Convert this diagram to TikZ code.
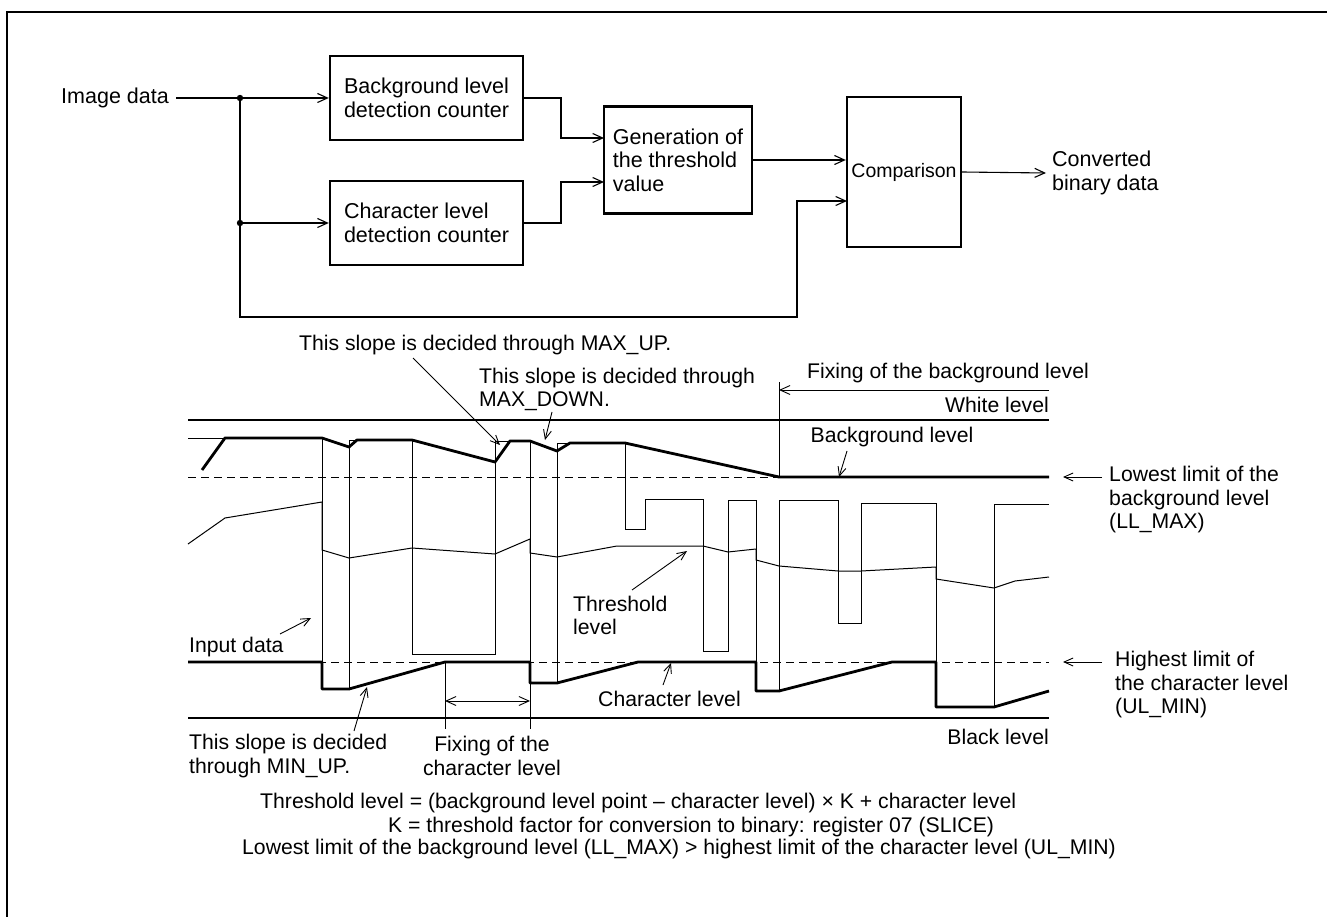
\documentclass[tikz,border=0pt]{standalone}
\usepackage{fontspec}
\setmainfont{Liberation Sans}
\usetikzlibrary{arrows.meta}
\begin{document}
\begin{tikzpicture}[x=1pt,y=-1pt,
  barb/.tip={Straight Barb[length=10pt,width=9pt]},
  arr/.style={-barb},
  conn/.style={line width=1.1pt},
  blk/.style={draw, line width=2.4pt, minimum width=193pt, minimum height=84pt, inner sep=0pt, align=left, font=\fontsize{21.5}{23.5}\selectfont},
  txt/.style={inner sep=0pt, align=left, font=\fontsize{21.5}{23.5}\selectfont},
  wv/.style={inner sep=0pt, align=left, font=\fontsize{21.2}{23.5}\selectfont},
  fm/.style={inner sep=0pt, font=\fontsize{21.2}{23.5}\selectfont},
  thinw/.style={line width=1pt, line join=miter},
  boldw/.style={line width=2.8pt, line join=round},
  lvl/.style={line width=1.1pt},
  dsh/.style={line width=1pt, dash pattern=on 8pt off 5pt},
  ann/.style={line width=0.9pt, -{Straight Barb[length=9pt,width=8pt]}}]
\useasboundingbox (0,0) rectangle (1327,917);
% frame
\draw[line width=2.4pt] (7,917) -- (7,12) -- (1327,12);

% ---------------- block diagram ----------------
\node[txt, anchor=east, inner xsep=7pt] (img) at (176,98) {Image data};
\node[blk] (bg) at (426.5,98) {Background level\\detection counter};
\node[blk] (ch) at (426.5,223) {Character level\\detection counter};
\node[blk, minimum width=148pt, minimum height=107pt] (gen) at (678,160) {Generation of\\the threshold\\value};
\node[blk, minimum width=114pt, minimum height=150pt, font=\fontsize{19.5}{22}\selectfont] (comp) at (904,172) {Comparison};
\node[txt, anchor=west, inner xsep=6pt] (conv) at (1046,173) {Converted\\binary data};

\coordinate (j1) at (240,98);
\coordinate (j2) at (240,223);
\coordinate (fbc) at (797,317);
\coordinate (cin2) at (847,201);
\coordinate (gin1) at (604,138);
\coordinate (gin2) at (604,182);
\coordinate (bgo) at (561,98);
\coordinate (cho) at (561,223);

\draw[conn, arr] (img.east) -- (bg.west);
\draw[conn] (j1) -- (j2);
\draw[conn, arr] (j2) -- (ch.west);
\draw[conn, arr] (j2) |- (fbc) |- (cin2);
\fill (j1) circle (3.2pt);
\fill (j2) circle (3.2pt);
\draw[conn, arr] (bg.east) -- (bgo) |- (gin1);
\draw[conn, arr] (ch.east) -- (cho) |- (gin2);
\draw[conn, arr] (gen.east) -- (gen.east -| comp.west);
\draw[conn, arr] (comp.east) -- (conv.west);

% ---------------- waveform ----------------
\draw[lvl] (188,420) -- (1049,420);
\draw[lvl] (188,718) -- (1049,718);
\draw[dsh] (188,477) -- (1049,477);
\draw[dsh] (188,662) -- (1049,662);

% input data
\draw[thinw] (188,438) -- (322,438) -- (322,689) -- (349,689) -- (349,440) -- (412,440)
  -- (412,654) -- (495,654) -- (495,441) -- (530,441) -- (530,683) -- (557,683)
  -- (557,443) -- (625,443) -- (625,529) -- (645,529) -- (645,499) -- (703,499)
  -- (703,651) -- (728,651) -- (728,500) -- (756,500) -- (756,691) -- (779,691)
  -- (779,500) -- (838,500) -- (838,623) -- (861,623) -- (861,503) -- (936,503)
  -- (936,707) -- (994,707) -- (994,504) -- (1049,504);

% threshold level
\draw[thinw] (188,544) -- (225,518) -- (322,502) -- (322,550) -- (349,558) -- (412,548)
  -- (495,554) -- (530,539) -- (530,553) -- (557,557) -- (617,546) -- (703,546)
  -- (728,552) -- (756,549) -- (756,560) -- (779,566) -- (838,571) -- (861,571)
  -- (936,567) -- (936,579) -- (994,588) -- (1015,581) -- (1049,577);

% background level
\draw[boldw] (202,470) -- (225,438) -- (322,438) -- (349,447) -- (357,440) -- (412,440)
  -- (495,462) -- (510,441) -- (530,441) -- (557,451) -- (570,443) -- (625,443)
  -- (779,477) -- (1049,477);

% character level
\draw[boldw] (188,662) -- (322,662) -- (322,689) -- (349,689) -- (445,662) -- (530,662)
  -- (530,683) -- (557,683) -- (638,662) -- (756,662) -- (756,691) -- (779,691)
  -- (892,662) -- (936,662) -- (936,707) -- (994,707) -- (1049,691);

% fixing of the character level
\draw[thinw] (445,662) -- (445,729);
\draw[thinw] (530,683) -- (530,729);
\coordinate (fc1) at (445,701);
\coordinate (fc2) at (530,701);
\draw[line width=0.9pt, {Straight Barb[length=10pt,width=9pt]}-{Straight Barb[length=10pt,width=9pt]}] (fc1) -- (fc2);

% fixing of the background level
\draw[thinw] (779,382) -- (779,477);
\coordinate (fb1) at (1049,390);
\coordinate (fb2) at (779,390);
\draw[line width=0.9pt, -{Straight Barb[length=10pt,width=9pt]}] (fb1) -- (fb2);

% labels
\node[wv, anchor=west] (lmaxup) at (299,345) {This slope is decided through MAX\_UP.};
\draw[ann] (413,358) -- (500,445);
\node[wv, anchor=west] (lmaxdn) at (479,389.5) {This slope is decided through\\MAX\_DOWN.};
\draw[ann] (552,412) -- (545,440);
\node[wv, anchor=west] (lfixbg) at (807,373) {Fixing of the background level};
\node[wv, anchor=east] (lwhite) at (1049,405) {White level};
\node[wv] (lbg) at (892,437) {Background level};
\draw[ann] (847,451) -- (839,477);
\node[wv, anchor=west] (lth) at (573,615.5) {Threshold\\level};
\draw[ann] (632,590) -- (687,551);
\node[wv, anchor=west] (linp) at (189,647) {Input data};
\draw[ann] (280,634) -- (311,618);
\node[wv, anchor=west] (lchar) at (598,699) {Character level};
\draw[ann] (663,685) -- (671,663);
\node[wv, anchor=west] (lminup) at (189,756) {This slope is decided\\through MIN\_UP.};
\draw[ann] (354,731) -- (367,687);
\node[wv, align=center] (lfixch) at (492,756) {Fixing of the\\character level};
\node[wv, anchor=east] (lblack) at (1049,737) {Black level};
\node[wv, anchor=west] (lll) at (1109,500) {Lowest limit of the\\background level\\(LL\_MAX)};
\draw[ann] (1102,477) -- (1063,477);
\node[wv, anchor=west] (lul) at (1115,685) {Highest limit of\\the character level\\(UL\_MIN)};
\draw[ann] (1102,662) -- (1063,662);

% formulas
\node[fm, anchor=west] (f1) at (260,803) {Threshold level = (background level point – character level) × K + character level};
\node[fm, anchor=west] (f2) at (388,827) {K = threshold factor for conversion to binary: register 07 (SLICE)};
\node[fm, anchor=west] (f3) at (242,849) {Lowest limit of the background level (LL\_MAX) > highest limit of the character level (UL\_MIN)};
\end{tikzpicture}
\end{document}
